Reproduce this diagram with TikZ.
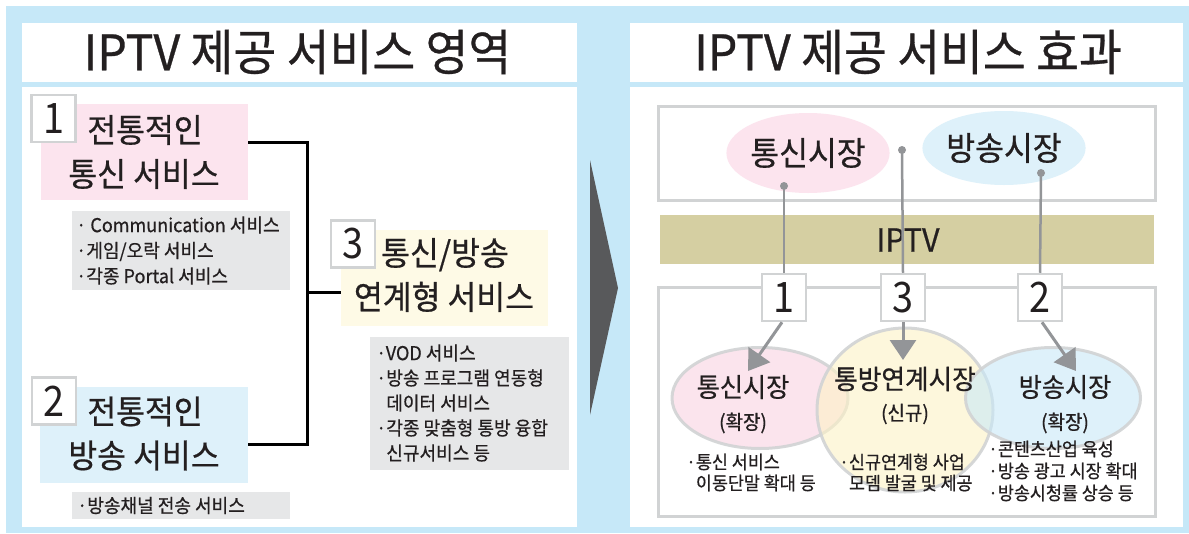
\documentclass[tikz,border=0pt]{standalone}
\usepackage{fontspec}
\setmainfont{Noto Sans CJK KR}[FakeStretch=0.95,FakeBold=0.6]
\newfontfamily\numfont{Noto Sans CJK KR}[FakeStretch=0.9]
\usetikzlibrary{arrows.meta,shapes.geometric}
\definecolor{bgblue}{HTML}{C6E8F8}
\definecolor{chev}{HTML}{58595B}
\definecolor{pinkbox}{HTML}{FCE4EE}
\definecolor{bluebox}{HTML}{DEF1FA}
\definecolor{yelbox}{HTML}{FEFAE6}
\definecolor{graybox}{HTML}{E6E7E8}
\definecolor{frame}{HTML}{D1D3D4}
\definecolor{band}{HTML}{D5CFA2}
\definecolor{linegray}{HTML}{939598}
\definecolor{txt}{HTML}{231F20}
\definecolor{epink}{HTML}{F9D3E2}
\definecolor{eyel}{HTML}{FDF2C6}
\definecolor{eblue}{HTML}{C9E9F8}
\newcommand\fsz[2]{\fontsize{#1}{#2}\selectfont}
\tikzset{
  panel/.style={fill=white, inner sep=0pt},
  colbox/.style={inner sep=0pt},
  numbox/.style={draw=frame, line width=2.5pt, fill=white, minimum width=44pt, minimum height=47pt, inner sep=0pt, font=\numfont\fsz{42}{46}, text=txt},
  bigtxt/.style={align=center, inner sep=0pt, text=txt, font=\fsz{33}{44}},
  listtxt/.style={align=left, anchor=west, inner sep=0pt, text=txt, font=\fsz{19}{25.5}},
  conn/.style={line width=3pt, black},
  glink/.style={line width=2.5pt, linegray},
  garrow/.style={line width=3pt, linegray, -{Triangle[length=20pt,width=26pt]}},
  dot/.style={circle, fill=linegray, minimum size=8pt, inner sep=0pt},
  mkt/.style={ellipse, inner sep=0pt, line width=3pt, draw=frame, draw opacity=0.9, fill opacity=0.6},
  smalltxt/.style={align=left, anchor=west, inner sep=0pt, text=txt, font=\fsz{18.3}{21}},
}
\begin{document}
\begin{tikzpicture}[x=1pt,y=-1pt]
\useasboundingbox (0,0) rectangle (1189,533);
\fill[white] (0,0) rectangle (1189,533);
\fill[bgblue] (6,6) rectangle (1189,533);

% panels
\node[panel, minimum width=555pt, minimum height=59pt] (lt) at (299.5,52.5) {};
\node[panel, minimum width=555pt, minimum height=440pt] (lc) at (299.5,307) {};
\node[panel, minimum width=553pt, minimum height=59pt] (rt) at (906.5,52.5) {};
\node[panel, minimum width=553pt, minimum height=440pt] (rc) at (906.5,307) {};
\node[text=txt, font=\fsz{49}{56}, inner sep=0pt] (ltt) at (297.5,52) {IPTV 제공 서비스 영역};
\node[text=txt, font=\fsz{49}{56}, inner sep=0pt] (rtt) at (908,52) {IPTV 제공 서비스 효과};

% chevron
\fill[chev] (590,160) -- (618,288) -- (590,415) -- cycle;

% ---- left side
\node[colbox, fill=pinkbox, minimum width=207pt, minimum height=96pt] (pk) at (144.5,152) {};
\node[numbox] (n1) at (53.5,118.5) {1};
\node[bigtxt] (pkt) at (144,152) {\hspace*{2pt}전통적인\\통신 서비스};
\node[colbox, fill=graybox, minimum width=218pt, minimum height=79pt] (g1) at (181,250.5) {};
\node[listtxt] (g1t) at (76,250.5) {· Communication 서비스\\·게임/오락 서비스\\·각종 Portal 서비스};

\node[colbox, fill=bluebox, minimum width=208pt, minimum height=96pt] (bl) at (144,435) {};
\node[numbox] (n2) at (54,401) {2};
\node[bigtxt] (blt) at (144,433.5) {\hspace*{2pt}전통적인\\방송 서비스};
\node[colbox, fill=graybox, minimum width=218pt, minimum height=27pt] (g2) at (181,505.5) {};
\node[listtxt] (g2t) at (77,505.5) {·방송채널 전송 서비스};

\node[colbox, fill=yelbox, minimum width=207pt, minimum height=96pt] (yl) at (444.5,278) {};
\node[numbox] (n3) at (353,244) {3};
\node[bigtxt] (ylt) at (444,275) {\hspace*{2pt}통신/방송\\연계형 서비스};
\node[colbox, fill=graybox, minimum width=199pt, minimum height=133pt] (g3) at (469.5,403.5) {};
\node[listtxt, font=\fsz{19}{25}] (g3t) at (376,403) {·VOD 서비스\\·방송 프로그램 연동형\\\phantom{·}데이터 서비스\\·각종 맞춤형 통방 융합\\\phantom{·}신규서비스 등};

\coordinate (jt) at (307,142);
\coordinate (jm) at (307,292);
\coordinate (jb) at (307,444);
\draw[conn, line join=miter] ([yshift=10pt]pk.east) -- (jt) -- (jb) -- ([yshift=-9pt]bl.east);
\draw[conn] (jm) -- ([yshift=-14pt]yl.west);

% ---- right side
\node[draw=frame, line width=3pt, fill=white, minimum width=497pt, minimum height=94pt, inner sep=0pt] (ub) at (906.5,153) {};
\node[colbox, fill=band, minimum width=494pt, minimum height=49pt] (bd) at (907,239.5) {};
\node[text=txt, font=\fsz{32}{36}, inner sep=0pt] (bdt) at (908,240) {IPTV};
\node[draw=frame, line width=3pt, minimum width=497pt, minimum height=229pt, inner sep=0pt] (lb) at (906.5,401.5) {};

\node[ellipse, fill=pinkbox, minimum width=145pt, minimum height=80pt, inner sep=0pt, text=txt, font=\fsz{33}{36}] (e1) at (808,153) {통신시장};
\node[ellipse, fill=bluebox, minimum width=144pt, minimum height=74pt, inner sep=0pt, text=txt, font=\fsz{33}{36}] (e2) at (1004,148) {방송시장};

\node[dot] (d1) at (784,186) {};
\node[dot] (dm) at (902,150) {};
\node[dot] (d2) at (1041,173) {};

\node[numbox] (r1) at (784,297.5) {1};
\node[numbox] (r3) at (903,297.5) {3};
\node[numbox] (r2) at (1040,297.5) {2};
\draw[glink] (d1.center) -- (r1.north);
\draw[glink] (dm.center) -- (r3.north);
\draw[glink] (d2.center) -- (r2.north);

\node[mkt, fill=epink, minimum width=176pt, minimum height=101pt] (c1) at (760,398) {};
\node[mkt, fill=eyel, minimum width=176pt, minimum height=164pt] (c3) at (905,410) {};
\node[mkt, fill=eblue, minimum width=175pt, minimum height=101pt] (c2) at (1053,398) {};

\coordinate (a1) at (748,371);
\coordinate (a3) at (903,360);
\coordinate (a2) at (1076,371);
\draw[garrow] ([xshift=-2pt]r1.south) -- (a1);
\draw[garrow] (r3.south) -- (a3);
\draw[garrow] ([xshift=2pt]r2.south) -- (a2);

\node[text=txt, font=\fsz{26.5}{30}, inner sep=0pt] (c1a) at (743,387) {통신시장};
\node[text=txt, font=\fsz{20}{24}, inner sep=0pt] (c1b) at (743,423) {(확장)};
\node[text=txt, font=\fsz{27}{30}, inner sep=0pt] (c3a) at (905,379) {통방연계시장};
\node[text=txt, font=\fsz{20}{24}, inner sep=0pt] (c3b) at (905,414) {(신규)};
\node[text=txt, font=\fsz{26.5}{30}, inner sep=0pt] (c2a) at (1065,387) {방송시장};
\node[text=txt, font=\fsz{20}{24}, inner sep=0pt] (c2b) at (1065,423) {(확장)};

\node[smalltxt] (b1) at (686,472.5) {·통신 서비스\\\phantom{·}이동단말 확대 등};
\node[smalltxt] (b3) at (839,472.5) {·신규연계형 사업\\\phantom{·}모뎀 발굴 및 제공};
\node[smalltxt, font=\fsz{18.3}{22}] (b2) at (988,471) {·콘텐츠산업 육성\\·방송 광고 시장 확대\\·방송시청률 상승 등};
\end{tikzpicture}
\end{document}
